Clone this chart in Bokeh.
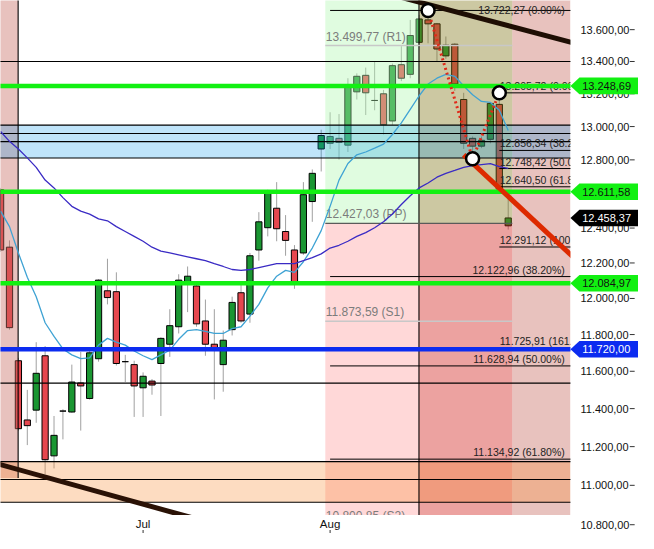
import math
from bokeh.plotting import figure
from bokeh.models import Range1d, ColumnDataSource
from bokeh.core.properties import value
from bokeh.embed import file_html
from bokeh.resources import INLINE

# ---------------- data ----------------
day_index = list(range(58))
opens = [12623, 12290, 11657, 11340, 11392, 11684, 11152, 11387, 11382, 11537,
         11454, 11668, 12043, 12038, 11652, 11636, 11511, 11547, 11642, 11747,
         11843, 12092, 12070, 11875, 11747, 11636, 11827, 12032, 11913, 12274,
         12402, 12515, 12380, 12274, 12257, 12554, 12865, 12899, 12929, 12888,
         13212, 13314, 13159, 13200, 13034, 13380, 13320, 13520, 13662, 13637,
         13435, 13508, 13165, 12929, 12882, 12923, 13135, 12413]
highs = [12634, 12329, 11673, 11500, 11758, 11737, 11361, 11397, 11636, 11705,
         11731, 12108, 12224, 12147, 11689, 11657, 11594, 11558, 11785, 11940,
         12136, 12180, 12092, 11994, 11940, 11822, 12010, 12092, 12257, 12492,
         12623, 12668, 12475, 12302, 12668, 12743, 12981, 13087, 13076, 13296,
         13326, 13362, 13399, 13224, 13387, 13496, 13662, 13693, 13722.27, 13643,
         13557, 13514, 13206, 12940, 12940, 13147, 13205.72, 12577]
lows = [12263, 11827, 11284, 11208, 11325, 11057, 11087, 11238, 11378, 11284,
        11448, 11652, 11967, 11631, 11542, 11356, 11356, 11474, 11361, 11678,
        11806, 11924, 11843, 11684, 11449, 11490, 11795, 11865, 11865, 12213,
        12352, 12324, 12241, 12054, 12246, 12436, 12731, 12865, 12801, 12847,
        13165, 13070, 13099, 12952, 13011, 13278, 13296, 13490, 13514, 13399,
        13417, 13218, 12865, 12806.5, 12870, 12899, 12617, 12391]
closes = [12274, 11838, 11294, 11310, 11589, 11132, 11259, 11387, 11542, 11521,
          11700, 12103, 12005, 11642, 11652, 11521, 11573, 11526, 11779, 11849,
          12103, 12125, 11859, 11747, 11726, 11769, 11978, 11875, 12241, 12436,
          12605, 12396, 12329, 12087, 12594, 12720, 12946, 12940, 12905, 13248,
          13308, 13206, 13159, 13011, 13374, 13296, 13563, 13668, 13637, 13478,
          13502, 13260, 12899, 12882, 12917, 13141, 12628, 12458.37]
ma_fast = [12498, 12408, 12257, 12119, 12010, 11865, 11790, 11721, 11689, 11668,
           11673, 11742, 11779, 11758, 11742, 11710, 11684, 11663, 11689, 11715,
           11774, 11822, 11827, 11817, 11806, 11806, 11833, 11843, 11902, 11967,
           12059, 12125, 12158, 12147, 12207, 12285, 12385, 12526, 12680, 12778,
           12830, 12847, 12870, 12894, 12952, 13023, 13105, 13188, 13260, 13296,
           13320, 13308, 13248, 13194, 13153, 13147, 13099, 12976]
ma_slow = [12970, 12911, 12865, 12812, 12755, 12680, 12634, 12577, 12526, 12498,
           12481, 12453, 12442, 12408, 12380, 12352, 12324, 12290, 12268, 12257,
           12246, 12235, 12224, 12213, 12196, 12180, 12163, 12158, 12163, 12174,
           12185, 12196, 12196, 12196, 12213, 12230, 12252, 12285, 12301, 12324,
           12352, 12374, 12402, 12436, 12481, 12537, 12588, 12634, 12663, 12697,
           12720, 12737, 12755, 12766, 12772, 12778, 12760, 12749]

x_tick_pos = [16, 37]
x_tick_labels = ["Jul", "Aug"]
y_ticks = [10800, 11000, 11200, 11400, 11600, 11800, 12000, 12200, 12400,
           12600, 12800, 13000, 13200, 13400, 13600]

support_levels = [13400, 13009, 12958, 12909, 12811, 11536, 11122, 11030, 10914]
blue_band = [12811, 13009]
orange_band = [10914, 11122]
green_levels = [13248.69, 12611.58, 12084.97]
blue_level = 11720.00
last_price = 12458.37

pivot_names = ["R1", "PP", "S1", "S2"]
pivot_values = [13499.77, 12427.03, 11873.59, 10800.85]
pivot_colors = ["#c8c8c8", "#5a5a5a", "#c8c8c8", "#c8c8c8"]
pivot_start, pivot_end = 36.46, 57.46

fib1_values = [13722.27, 12122.96, 11628.94, 11134.92]
fib1_pcts = ["0.00%", "38.20%", "50.00%", "61.80%"]
fib1_start = 37
fib2_values = [13205.72, 12856.34, 12748.42, 12640.50, 12291.12, 11725.91]
fib2_pcts = ["0.00%", "38.20%", "50.00%", "61.80%", "100.00%", "161.80%"]
fib2_start = 56

left_zone = [-1, 1.97, 11037]
fib_zone_start = 46.98

swing_x = [48, 53, 56]
swing_y = [13722.27, 12806.5, 13205.72]
trend_upper_x, trend_upper_y = [44, 66], [13821, 13491]
trend_lower_x, trend_lower_y = [-2, 22], [11132, 10829]
trend_red_x, trend_red_y = [52, 64.5], [12830, 12224]

# chart-area limits (price panel) and full canvas range
DATA_R = 63.99
X_END = 71.63
Y_TOP = 13786
Y_DATA_BOT = 10849
Y_END_BOT = 10756
FAR_L, FAR_R = -1, 66


def fmt(v):
    s = f"{v:,.2f}"
    return s.replace(",", "X").replace(".", ",").replace("X", ".")


FONT = "Liberation Sans"

p = figure(width=638, height=533, y_axis_type="log",
           x_range=Range1d(-0.01, X_END), y_range=Range1d(Y_END_BOT, Y_TOP),
           output_backend="svg", toolbar_location=None,
           min_border_left=0, min_border_top=0, min_border_right=0,
           min_border_bottom=0)
p.outline_line_color = None
p.grid.visible = False
p.xaxis.visible = False
p.yaxis.visible = False
p.background_fill_color = "white"
p.border_fill_color = "white"

# ---------------- candles ----------------
up = [c >= o for o, c in zip(opens, closes)]
src = ColumnDataSource(dict(
    x=day_index, high=highs, low=lows,
    top=[max(o, c) for o, c in zip(opens, closes)],
    bottom=[min(o, c) for o, c in zip(opens, closes)],
    color=["#1a9632" if u else "#e6474f" for u in up]))
p.segment(x0="x", y0="low", x1="x", y1="high", source=src, line_color="#a0a0a0", line_width=1)
p.vbar(x="x", width=0.7, top="top", bottom="bottom", source=src,
       fill_color="color", line_color="black", line_width=1)

# ---------------- zones (translucent, over candles) ----------------
pp = pivot_values[1]
zl = [left_zone[0], pivot_start, pivot_start, fib_zone_start, fib_zone_start, pivot_end]
zr = [left_zone[1], fib_zone_start, fib_zone_start, pivot_end, pivot_end, DATA_R]
zb = [left_zone[2], pp, Y_DATA_BOT, pp, Y_DATA_BOT, Y_DATA_BOT]
zt = [14000, 14000, pp, 14000, pp, 14000]
zc = ["#c6665c", "#b2f8b2", "#ff9e9e", "#807616", "#d01712", "#c6665c"]
p.quad(left=zl, right=zr, bottom=zb, top=zt, fill_color=zc, fill_alpha=0.4, line_color=None)

p.quad(left=[FAR_L], right=[DATA_R], bottom=[blue_band[0]], top=[blue_band[1]],
       fill_color="#0093eb", fill_alpha=0.25, line_color=None)
p.quad(left=[FAR_L], right=[DATA_R], bottom=[orange_band[0]], top=[orange_band[1]],
       fill_color="#fa8c32", fill_alpha=0.3, line_color=None)

# ---------------- horizontal reference lines ----------------
n = len(support_levels)
p.segment(x0=[FAR_L] * n, x1=[FAR_R] * n, y0=support_levels, y1=support_levels,
          line_color="black", line_width=1.1)
p.segment(x0=[left_zone[1], fib_zone_start], x1=[left_zone[1], fib_zone_start],
          y0=[left_zone[2], 10000], y1=[14000, 14000], line_color="black", line_width=1.1)

# pivots
p.segment(x0=[pivot_start] * 4, x1=[pivot_end] * 4, y0=pivot_values, y1=pivot_values,
          line_color=pivot_colors, line_width=1.4)
p.text(x=[pivot_start + 0.05] * 4, y=pivot_values,
       text=[f"{fmt(v)} ({nm})" for v, nm in zip(pivot_values, pivot_names)],
       text_font=value(FONT), text_font_size="12px", text_color="#7c7c7c",
       text_baseline="bottom", text_align="left", y_offset=-2)

# fibonacci 1
fib1_labels = [f"{fmt(v)} ({c})" for v, c in zip(fib1_values, fib1_pcts)]
p.segment(x0=[fib1_start] * 4, x1=[FAR_R] * 4, y0=fib1_values, y1=fib1_values,
          line_color="black", line_width=1)
p.text(x=[63.35], y=fib1_values[:1], text=fib1_labels[:1],
       text_font=value(FONT), text_font_size="10.5px", text_color="#222222",
       text_baseline="alphabetic", text_align="right", y_offset=0)
p.text(x=[63.35] * 3, y=fib1_values[1:], text=fib1_labels[1:],
       text_font=value(FONT), text_font_size="10.5px", text_color="#222222",
       text_baseline="bottom", text_align="right", y_offset=-1)
# fibonacci 2
p.segment(x0=[fib2_start] * 6, x1=[FAR_R] * 6, y0=fib2_values, y1=fib2_values,
          line_color="black", line_width=1)
p.text(x=[fib2_start + 0.05] * 6, y=fib2_values,
       text=[f"{fmt(v)} ({c})" for v, c in zip(fib2_values, fib2_pcts)],
       text_font=value(FONT), text_font_size="10.5px", text_color="#222222",
       text_baseline="bottom", text_align="left", y_offset=-1)

# moving averages
p.line(day_index, ma_fast, line_color="#3fa3d4", line_width=1.3)
p.line(day_index, ma_slow, line_color="#3a2bc4", line_width=1.3)

# thick level lines
p.segment(x0=[FAR_L] * 3, x1=[FAR_R] * 3, y0=green_levels, y1=green_levels,
          line_color="#12f012", line_width=4.5)
p.segment(x0=[FAR_L], x1=[FAR_R], y0=[blue_level], y1=[blue_level],
          line_color="#0c2cf0", line_width=4.5)

# trend lines and swing points
p.line(trend_upper_x, trend_upper_y, line_color="#1e0e04", line_width=5)
p.line(trend_lower_x, trend_lower_y, line_color="#2a1206", line_width=5)
p.line(trend_red_x, trend_red_y, line_color="#dd2a00", line_width=5)
p.line(swing_x, swing_y, line_color="#e02a1a", line_width=3, line_dash="2 3")
p.scatter(swing_x, swing_y, size=13, fill_color="white", line_color="black", line_width=2.5)

# ---------------- axis panels (mask outside price area) ----------------
p.quad(left=[DATA_R, FAR_L], right=[80, 80], bottom=[10000, 10000],
       top=[14000, Y_DATA_BOT], fill_color="white", line_color=None)

# right price axis
nt = len(y_ticks)
p.text(x=[DATA_R] * nt, y=y_ticks, text=[fmt(t) for t in y_ticks], x_offset=10,
       text_font=value(FONT), text_font_size="11px", text_color="#111111",
       text_baseline="middle", text_align="left")
p.segment(x0=[70.65] * nt, x1=[71.2] * nt, y0=y_ticks, y1=y_ticks,
          line_color="#333333", line_width=1)

# time axis
kt = math.exp(3.5 / 2148)
p.text(x=x_tick_pos, y=[Y_END_BOT] * len(x_tick_pos), text=x_tick_labels, y_offset=-10,
       text_font=value(FONT), text_font_size="11.5px", text_color="#111111",
       text_baseline="middle", text_align="center")
p.segment(x0=x_tick_pos, x1=x_tick_pos, y0=[Y_END_BOT] * 2, y1=[Y_END_BOT * kt] * 2,
          line_color="#333333", line_width=1)

# price tags
k = math.exp(8.5 / 2212)
tag_vals = green_levels + [blue_level, last_price]
tag_fill = ["#12f012"] * 3 + ["#0c2cf0", "black"]
tag_text = ["#111111"] * 3 + ["white", "white"]
p.patches(xs=[[DATA_R, 65.0, 72.0, 72.0, 65.0] for _ in tag_vals],
          ys=[[v, v * k, v * k, v / k, v / k] for v in tag_vals],
          fill_color=tag_fill, line_color=None)
p.text(x=[65.3] * len(tag_vals), y=tag_vals, text=[fmt(v) for v in tag_vals],
       text_font=value(FONT), text_font_size="11px", text_color=tag_text,
       text_baseline="middle", text_align="left")

open("out.html", "w").write(file_html(p, INLINE))
